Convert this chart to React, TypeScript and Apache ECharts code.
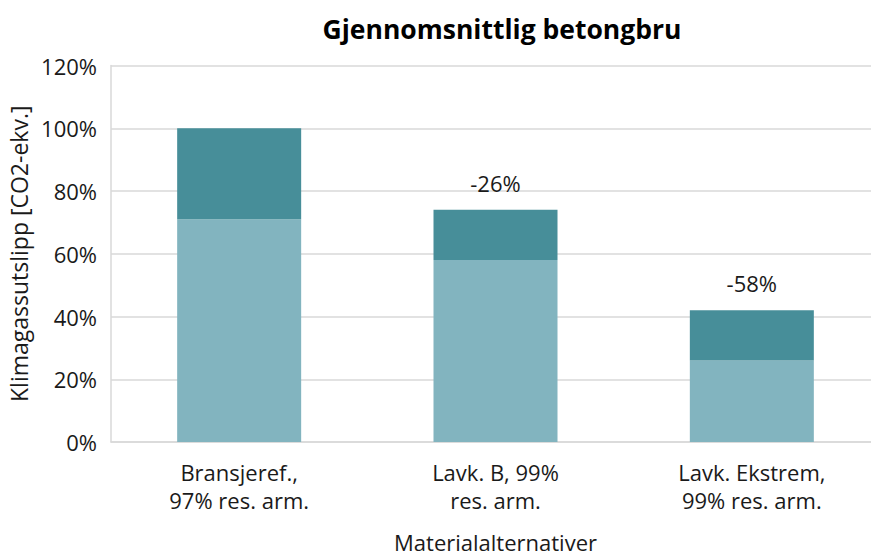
import React, { useEffect, useRef } from "react";
import * as echarts from "echarts";

const categories = ["Bransjeref.,\n97% res. arm.", "Lavk. B, 99%\nres. arm.", "Lavk. Ekstrem,\n99% res. arm."];
const baseValues = [71, 58, 26];
const topValues = [29, 16, 16];
const changeLabels = ["", "-26%", "-58%"];
const yTicks = [0, 20, 40, 60, 80, 100, 120];

const FONT = "'Open Sans', 'Noto Sans', sans-serif";

export default function App() {
  const ref = useRef<HTMLDivElement>(null);
  useEffect(() => {
    document.body.style.margin = "0";
    const chart = echarts.init(ref.current!, null, { renderer: "svg" });
    chart.setOption({
      animation: false,
      textStyle: { fontFamily: FONT },
      title: {
        text: "Gjennomsnittlig betongbru",
        left: 497,
        top: 10,
        textAlign: "center",
        textStyle: { fontFamily: FONT, fontSize: 26.5, fontWeight: "bold", color: "#000" },
      },
      grid: { left: 111, top: 65.5, width: 769, height: 376.5, outerBoundsMode: "none", containLabel: false },
      xAxis: {
        type: "category",
        data: categories,
        axisLine: { show: true, lineStyle: { color: "#d9d9d9", width: 1.5 } },
        axisTick: { show: false },
        axisLabel: { fontFamily: FONT, fontSize: 22, color: "#1a1a1a", lineHeight: 28, margin: 16 },
        name: "Materialalternativer",
        nameLocation: "middle",
        nameGap: 89,
        nameTextStyle: { fontFamily: FONT, fontSize: 22, lineHeight: 22, color: "#1a1a1a" },
      },
      yAxis: {
        type: "value",
        min: yTicks[0],
        max: yTicks[yTicks.length - 1],
        interval: 20,
        axisLine: { show: true, lineStyle: { color: "#d9d9d9", width: 1.5 } },
        axisTick: { show: false },
        splitLine: { lineStyle: { color: "#d9d9d9", width: 1.5 } },
        axisLabel: {
          fontFamily: FONT,
          fontSize: 22,
          color: "#1a1a1a",
          margin: 14,
          padding: [11, 0, 0, 0],
          formatter: (v: number) => v + "%",
        },
        name: "Klimagassutslipp [CO2-ekv.]",
        nameLocation: "middle",
        nameGap: 76,
        nameTextStyle: { fontFamily: FONT, fontSize: 23, color: "#1a1a1a" },
      },
      series: [
        {
          type: "bar",
          stack: "s",
          data: baseValues,
          barWidth: 124,
          itemStyle: { color: "#82B4BF" },
        },
        {
          type: "bar",
          stack: "s",
          data: topValues,
          barWidth: 124,
          itemStyle: { color: "#478E99" },
          label: {
            show: true,
            position: "top",
            distance: 16,
            fontFamily: FONT,
            fontSize: 22,
            color: "#1a1a1a",
            formatter: (p: any) => changeLabels[p.dataIndex],
          },
        },
      ],
    });
    return () => chart.dispose();
  }, []);
  return <div ref={ref} style={{ position: "absolute", left: 0, top: 0, width: 871, height: 560 }} />;
}
